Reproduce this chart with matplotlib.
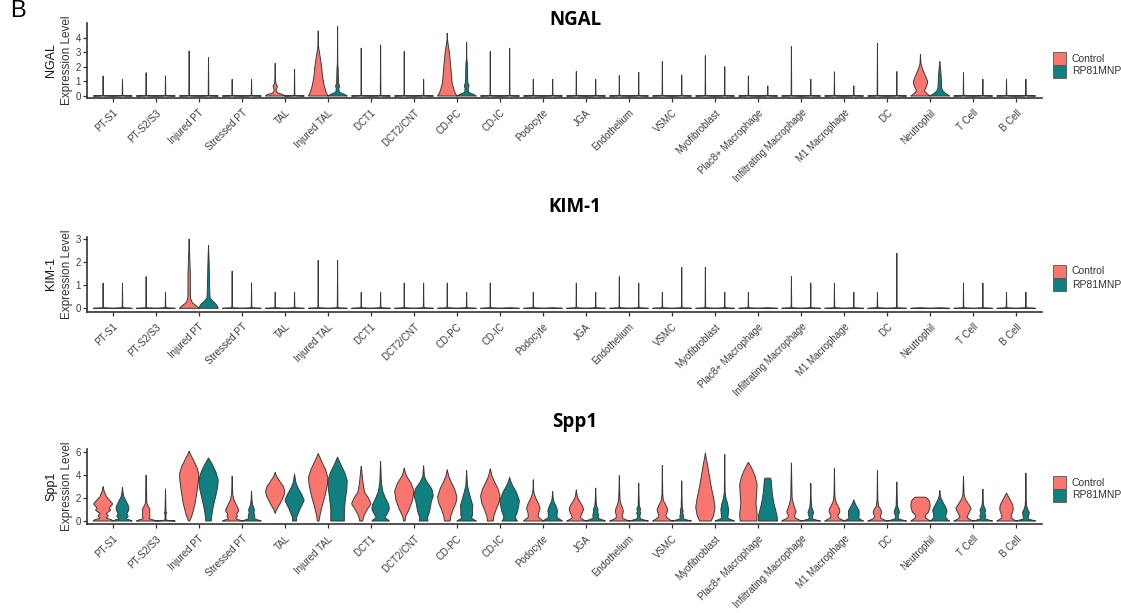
import numpy as np
import matplotlib
matplotlib.use('Agg')
import matplotlib.pyplot as plt
from matplotlib.patches import Polygon, Rectangle

plt.rcParams['font.family'] = ['Liberation Sans', 'DejaVu Sans']

# ---------------- data ----------------
categories = ['PT-S1', 'PT-S2/S3', 'Injured PT', 'Stressed PT', 'TAL', 'Injured TAL',
              'DCT1', 'DCT2/CNT', 'CD-PC', 'CD-IC', 'Podocyte', 'JGA', 'Endothelium',
              'VSMC', 'Myofibroblast', 'Plac8+ Macrophage', 'Infiltrating Macrophage',
              'M1 Macrophage', 'DC', 'Neutrophil', 'T Cell', 'B Cell']
groups = ['Control', 'RP81MNP']
group_colors = ['#F8766D', '#0F7F80']

# maximum expression (tail tip) of each violin
ngal_ctrl_max = [1.38, 1.6, 3.1, 1.15, 2.25, 4.48, 3.29, 3.06, 4.32, 3.06, 1.15,
                 1.68, 1.4, 2.37, 2.78, 1.38, 3.4, 1.66, 3.63, 2.87, 1.63, 1.15]
ngal_rp_max = [1.15, 1.38, 2.64, 1.15, 1.84, 4.78, 3.5, 1.15, 3.68, 3.29, 1.15,
               1.15, 1.63, 1.45, 2.02, 0.69, 1.15, 0.69, 1.68, 2.37, 1.15, 1.15]
kim1_ctrl_max = [1.09, 1.37, 3.0, 1.61, 0.69, 2.07, 0.69, 1.09, 1.09, 1.09, 0.69,
                 1.09, 1.37, 0.69, 1.77, 0.69, 1.37, 1.09, 0.69, 0.0, 1.09, 0.69]
kim1_rp_max = [1.09, 0.69, 2.72, 1.1, 0.69, 2.07, 0.69, 1.09, 0.69, 0.0, 0.0,
               0.69, 1.09, 1.77, 0.69, 0.0, 1.09, 0.69, 2.38, 0.0, 1.09, 0.69]

# violin density profiles: (expression level, relative half-width)
ngal_shapes = {
    (4, 0): [(0, 1), (0.1, 0.8), (0.2, 0.25), (0.4, 0.1), (0.6, 0.2), (0.7, 0.22), (0.8, 0.1), (1.0, 0.04), (2.25, 0)],
    (5, 0): [(0, 1), (0.3, 0.8), (0.7, 0.62), (1.3, 0.45), (2.0, 0.35), (2.6, 0.22), (3.1, 0.1), (3.5, 0.02), (4.48, 0)],
    (5, 1): [(0, 1), (0.12, 0.7), (0.25, 0.2), (0.5, 0.12), (0.7, 0.22), (0.85, 0.1), (1.9, 0.06), (2.2, 0.02), (4.78, 0)],
    (8, 0): [(0, 1), (0.15, 0.85), (0.4, 0.7), (0.9, 0.5), (2.0, 0.36), (3.0, 0.22), (3.6, 0.08), (3.9, 0.02), (4.32, 0)],
    (8, 1): [(0, 1), (0.1, 0.75), (0.25, 0.2), (0.5, 0.15), (0.7, 0.25), (0.9, 0.12), (2.3, 0.07), (2.5, 0.02), (3.68, 0)],
    (19, 0): [(0, 1), (0.15, 0.7), (0.35, 0.4), (0.7, 0.65), (1.0, 0.75), (1.4, 0.5), (1.8, 0.25), (2.2, 0.05), (2.87, 0)],
    (19, 1): [(0, 1), (0.15, 0.65), (0.35, 0.3), (0.6, 0.18), (1.2, 0.15), (1.7, 0.1), (2.37, 0)],
}
kim1_shapes = {
    (2, 0): [(0, 1), (0.1, 0.75), (0.25, 0.3), (0.45, 0.13), (1.5, 0.12), (2.2, 0.06), (3.0, 0)],
    (2, 1): [(0, 1), (0.15, 0.85), (0.3, 0.45), (0.45, 0.15), (1.2, 0.1), (2.0, 0.06), (2.72, 0)],
}
spp1_ctrl_shapes = [
    [(0, 1), (0.1, 0.9), (0.25, 0.3), (0.45, 0.55), (0.65, 0.3), (0.95, 0.8), (1.1, 0.6), (1.5, 1.0), (2.1, 0.35), (2.6, 0.1), (3.0, 0)],
    [(0, 1), (0.08, 0.8), (0.2, 0.3), (0.45, 0.4), (0.7, 0.35), (1.0, 0.4), (1.3, 0.2), (1.6, 0.06), (3.0, 0.04), (4.0, 0)],
    [(0, 0.05), (0.5, 0.3), (1.5, 0.6), (2.5, 0.8), (3.5, 0.95), (4.1, 1.0), (4.7, 0.8), (5.3, 0.45), (5.8, 0.15), (6.08, 0)],
    [(0, 1), (0.08, 0.8), (0.2, 0.35), (0.4, 0.55), (0.6, 0.45), (0.9, 0.7), (1.3, 0.5), (1.8, 0.2), (2.3, 0.06), (3.9, 0)],
    [(0.67, 0), (1.0, 0.15), (1.6, 0.55), (2.2, 0.9), (2.6, 1.0), (3.0, 0.85), (3.5, 0.45), (3.9, 0.15), (4.24, 0)],
    [(0, 0.08), (0.6, 0.2), (1.3, 0.4), (2.2, 0.7), (3.2, 0.95), (3.8, 1.0), (4.5, 0.75), (5.2, 0.35), (5.88, 0)],
    [(0, 0.15), (0.4, 0.25), (0.9, 0.55), (1.5, 1.0), (2.0, 0.75), (2.5, 0.35), (3.2, 0.2), (4.0, 0.1), (4.77, 0)],
    [(0, 0.08), (0.4, 0.15), (1.0, 0.5), (1.8, 0.85), (2.6, 1.0), (3.3, 0.7), (3.9, 0.25), (4.3, 0.08), (4.62, 0)],
    [(0, 0.3), (0.4, 0.35), (1.0, 0.6), (1.6, 0.9), (2.1, 1.0), (2.8, 0.75), (3.4, 0.4), (3.9, 0.15), (4.47, 0)],
    [(0, 0.3), (0.4, 0.35), (1.0, 0.6), (1.6, 0.9), (2.2, 1.0), (2.8, 0.8), (3.4, 0.45), (3.9, 0.18), (4.56, 0)],
    [(0, 1), (0.12, 0.85), (0.35, 0.5), (0.7, 0.55), (1.1, 0.7), (1.5, 0.55), (1.9, 0.3), (2.3, 0.12), (2.6, 0.04), (3.6, 0)],
    [(0, 1), (0.12, 0.7), (0.3, 0.4), (0.6, 0.55), (1.0, 0.75), (1.3, 0.65), (1.7, 0.35), (2.1, 0.1), (2.72, 0)],
    [(0, 1), (0.1, 0.7), (0.25, 0.35), (0.5, 0.3), (0.8, 0.42), (1.1, 0.35), (1.4, 0.2), (1.8, 0.08), (2.5, 0.04), (3.95, 0)],
    [(0, 1), (0.12, 0.75), (0.3, 0.45), (0.5, 0.35), (0.8, 0.5), (1.0, 0.55), (1.4, 0.35), (1.8, 0.1), (2.3, 0.04), (4.85, 0)],
    [(0, 0.6), (0.5, 0.85), (1.2, 1.0), (2.0, 0.85), (3.0, 0.6), (4.0, 0.4), (5.0, 0.2), (5.6, 0.06), (5.94, 0)],
    [(0, 0.85), (0.6, 0.9), (1.5, 0.78), (2.4, 0.85), (3.2, 0.9), (3.9, 0.7), (4.5, 0.4), (4.9, 0.15), (5.12, 0)],
    [(0, 1), (0.1, 0.8), (0.25, 0.4), (0.45, 0.3), (0.8, 0.5), (1.1, 0.35), (1.5, 0.2), (2.0, 0.07), (5.06, 0)],
    [(0, 1), (0.1, 0.8), (0.25, 0.45), (0.45, 0.35), (0.8, 0.55), (1.0, 0.55), (1.4, 0.3), (1.8, 0.1), (2.3, 0.04), (4.62, 0)],
    [(0, 1), (0.1, 0.7), (0.25, 0.35), (0.45, 0.3), (0.75, 0.45), (1.0, 0.35), (1.3, 0.12), (1.8, 0.04), (4.39, 0)],
    [(0, 1), (0.12, 0.8), (0.3, 0.5), (0.5, 0.5), (0.8, 0.85), (1.3, 1.0), (1.7, 0.95), (1.95, 0.75), (2.08, 0.55), (2.08, 0)],
    [(0, 1), (0.1, 0.75), (0.3, 0.35), (0.6, 0.5), (1.1, 0.8), (1.5, 0.5), (1.9, 0.2), (2.3, 0.06), (3.9, 0)],
    [(0, 1), (0.12, 0.75), (0.3, 0.45), (0.6, 0.55), (1.0, 0.7), (1.4, 0.65), (1.8, 0.4), (2.2, 0.15), (2.43, 0)],
]
spp1_rp_shapes = [
    [(0, 1), (0.08, 0.8), (0.2, 0.35), (0.4, 0.6), (0.65, 0.45), (0.95, 0.65), (1.25, 0.65), (1.7, 0.4), (2.1, 0.15), (2.5, 0.05), (2.95, 0)],
    [(0, 1), (0.04, 0.3), (0.1, 0.05), (0.65, 0.05), (0.7, 0.15), (0.78, 0.05), (2.8, 0)],
    [(0, 0.28), (0.6, 0.35), (1.3, 0.5), (2.2, 0.75), (3.0, 0.95), (3.6, 1.0), (4.3, 0.75), (5.0, 0.35), (5.5, 0)],
    [(0, 1), (0.08, 0.7), (0.2, 0.3), (0.4, 0.35), (0.7, 0.25), (1.0, 0.3), (1.4, 0.12), (1.8, 0.05), (2.57, 0)],
    [(0, 0.2), (0.3, 0.2), (0.6, 0.35), (1.2, 0.65), (1.8, 1.0), (2.3, 0.75), (2.9, 0.35), (3.4, 0.12), (4.1, 0)],
    [(0, 0.7), (1.0, 0.7), (1.8, 0.8), (2.8, 0.95), (3.5, 1.0), (4.2, 0.75), (4.9, 0.35), (5.58, 0)],
    [(0, 0.9), (0.12, 0.75), (0.3, 0.45), (0.6, 0.65), (1.0, 0.9), (1.4, 0.85), (2.0, 0.5), (2.6, 0.22), (3.4, 0.08), (5.2, 0)],
    [(0, 0.45), (0.3, 0.4), (0.8, 0.6), (1.3, 0.72), (1.7, 0.8), (2.2, 1.0), (2.8, 0.85), (3.4, 0.35), (3.9, 0.08), (4.82, 0)],
    [(0, 1), (0.1, 0.8), (0.25, 0.5), (0.5, 0.6), (1.0, 0.6), (1.3, 0.65), (1.9, 0.45), (2.5, 0.25), (3.1, 0.08), (4.4, 0)],
    [(0, 0.8), (0.15, 0.65), (0.4, 0.6), (0.8, 0.8), (1.4, 0.95), (1.8, 1.0), (2.5, 0.7), (3.1, 0.3), (3.5, 0.1), (3.8, 0)],
    [(0, 1), (0.12, 0.8), (0.3, 0.45), (0.6, 0.45), (0.9, 0.5), (1.3, 0.35), (1.7, 0.12), (2.0, 0.05), (2.57, 0)],
    [(0, 1), (0.1, 0.7), (0.25, 0.25), (0.5, 0.3), (0.8, 0.2), (1.0, 0.25), (1.3, 0.1), (1.7, 0.05), (2.87, 0)],
    [(0, 1), (0.08, 0.6), (0.2, 0.15), (0.5, 0.12), (0.7, 0.22), (0.85, 0.12), (1.05, 0.2), (1.3, 0.06), (3.3, 0)],
    [(0, 1), (0.08, 0.6), (0.2, 0.15), (0.45, 0.2), (0.65, 0.1), (0.9, 0.15), (1.2, 0.05), (3.5, 0)],
    [(0, 1), (0.1, 0.7), (0.25, 0.3), (0.5, 0.35), (1.0, 0.4), (1.5, 0.3), (2.0, 0.12), (2.5, 0.04), (5.8, 0)],
    [(0, 1), (0.5, 0.95), (1.0, 0.8), (1.5, 0.65), (2.2, 0.5), (3.0, 0.4), (3.6, 0.35), (3.74, 0.3), (3.74, 0)],
    [(0, 1), (0.08, 0.6), (0.2, 0.15), (0.5, 0.2), (0.75, 0.3), (0.95, 0.2), (1.2, 0.1), (1.6, 0.05), (3.3, 0)],
    [(0, 1), (0.1, 0.75), (0.25, 0.5), (0.5, 0.55), (0.9, 0.55), (1.2, 0.35), (1.5, 0.15), (1.84, 0)],
    [(0, 1), (0.08, 0.6), (0.2, 0.15), (0.5, 0.15), (0.75, 0.28), (1.0, 0.2), (1.3, 0.07), (3.4, 0)],
    [(0, 1), (0.12, 0.8), (0.35, 0.6), (0.6, 0.65), (0.9, 0.75), (1.2, 0.6), (1.6, 0.35), (2.0, 0.12), (2.3, 0.04), (2.66, 0)],
    [(0, 1), (0.08, 0.65), (0.2, 0.2), (0.45, 0.32), (0.65, 0.2), (0.95, 0.3), (1.25, 0.12), (1.6, 0.05), (2.78, 0)],
    [(0, 1), (0.08, 0.65), (0.2, 0.2), (0.5, 0.3), (0.75, 0.35), (1.0, 0.2), (1.3, 0.08), (1.8, 0.04), (4.18, 0)],
]

# ---------------- helpers ----------------
HALF = 0.225      # max half-width of a violin (x units)
DODGE = 0.225     # offset of each group from the category centre
EDGE = '#3a3a3a'


def spike(ymax):
    if ymax <= 0:
        return [(0, 1), (0.02, 0)]
    return [(0, 1), (0.02, 0.03), (ymax, 0.0)]


def densify(pts, step=2.5, sw=10.0, sy=12.0):
    out = [pts[0]]
    for a, b in zip(pts[:-1], pts[1:]):
        d = np.hypot((b[0] - a[0]) * sw, (b[1] - a[1]) * sy)
        n = max(1, int(np.ceil(d / step)))
        for t in range(1, n + 1):
            out.append(a + (b - a) * t / n)
    return np.array(out)


def chaikin(pts, n=3):
    for _ in range(n):
        q = 0.75 * pts[:-1] + 0.25 * pts[1:]
        r = 0.25 * pts[:-1] + 0.75 * pts[1:]
        mid = np.empty((2 * len(q), 2))
        mid[0::2] = q
        mid[1::2] = r
        pts = np.vstack([pts[0], mid, pts[-1]])
    return pts


def draw_violin(ax, xc, knots, color):
    k = np.array(knots, dtype=float)
    pts = chaikin(densify(np.column_stack([k[:, 1], k[:, 0]])), 3)
    w, y = pts[:, 0], pts[:, 1]
    right = np.column_stack([xc + w * HALF, y])
    left = np.column_stack([xc - w * HALF, y])[::-1]
    poly = Polygon(np.vstack([right, left]), closed=True, facecolor=color,
                   edgecolor=EDGE, linewidth=0.7, joinstyle='round')
    ax.add_patch(poly)


W, H = 1121, 613
fig = plt.figure(figsize=(W / 100, H / 100), dpi=100)

panels = [
    dict(name='NGAL', top=23.3, bottom=98, ylim=(-0.138, 5.01), yticks=[0, 1, 2, 3, 4], ty=20, ly=52,
         ctrl=[ngal_shapes.get((i, 0), spike(m)) for i, m in enumerate(ngal_ctrl_max)],
         rp=[ngal_shapes.get((i, 1), spike(m)) for i, m in enumerate(ngal_rp_max)]),
    dict(name='KIM-1', top=236.7, bottom=312, ylim=(-0.16, 3.1), yticks=[0, 1, 2, 3], ty=207, ly=265,
         ctrl=[kim1_shapes.get((i, 0), spike(m)) for i, m in enumerate(kim1_ctrl_max)],
         rp=[kim1_shapes.get((i, 1), spike(m)) for i, m in enumerate(kim1_rp_max)]),
    dict(name='Spp1', top=449.3, bottom=524, ylim=(-0.26, 6.26), yticks=[0, 2, 4, 6], ty=422, ly=476,
         ctrl=spp1_ctrl_shapes, rp=spp1_rp_shapes),
]

left_px, right_px = 87, 1042
xpos = np.arange(1, len(categories) + 1)

for p in panels:
    ax = fig.add_axes([left_px / W, 1 - p['bottom'] / H, (right_px - left_px) / W,
                       (p['bottom'] - p['top']) / H])
    for i, x in enumerate(xpos):
        draw_violin(ax, x - DODGE, p['ctrl'][i], group_colors[0])
        draw_violin(ax, x + DODGE, p['rp'][i], group_colors[1])
    ax.set_xlim(0.4, len(categories) + 0.6)
    ax.set_ylim(*p['ylim'])
    ax.set_yticks(p['yticks'])
    ax.set_xticks(xpos)
    ax.set_xticklabels(categories, rotation=45, ha='right', va='top',
                       rotation_mode='anchor', fontsize=7.0, color='#3c3c3c')
    ax.tick_params(axis='both', length=3, width=0.9, color='#333333')
    ax.tick_params(axis='x', pad=4.0)
    ax.tick_params(axis='y', labelsize=7, labelcolor='#3c3c3c', pad=1.5)
    for s in ['top', 'right']:
        ax.spines[s].set_visible(False)
    for s in ['left', 'bottom']:
        ax.spines[s].set_linewidth(1.2)
        ax.spines[s].set_color('#333333')

    ymid = (p['top'] + p['bottom']) / 2
    fig.text(51 / W, 1 - (ymid - 0.5) / H, p['name'], rotation=90, ha='center', va='center',
             fontsize=9, color='#111111')
    fig.text(67 / W, 1 - ymid / H, 'Expression Level', rotation=90, ha='center', va='center',
             fontsize=8.5, color='#333333')
    fig.text(575 / W, 1 - p['ty'] / H, p['name'], ha='center', va='center', fontsize=13.5,
             fontweight='bold', family='Open Sans')

    # legend
    for j, (g, c) in enumerate(zip(groups, group_colors)):
        y0 = p['ly'] + j * 13
        fig.add_artist(Rectangle((1053 / W, 1 - (y0 + 13) / H), 13 / W, 13 / H,
                                 transform=fig.transFigure, facecolor=c,
                                 edgecolor='#555555', linewidth=0.6))
        fig.text(1072 / W, 1 - (y0 + 6.5) / H, g, ha='left', va='center',
                 fontsize=7.5, color='#333333')

fig.text(10 / W, 1 - 17 / H, 'B', fontsize=17, ha='left', va='baseline')

fig.savefig('out.png', dpi=100)
